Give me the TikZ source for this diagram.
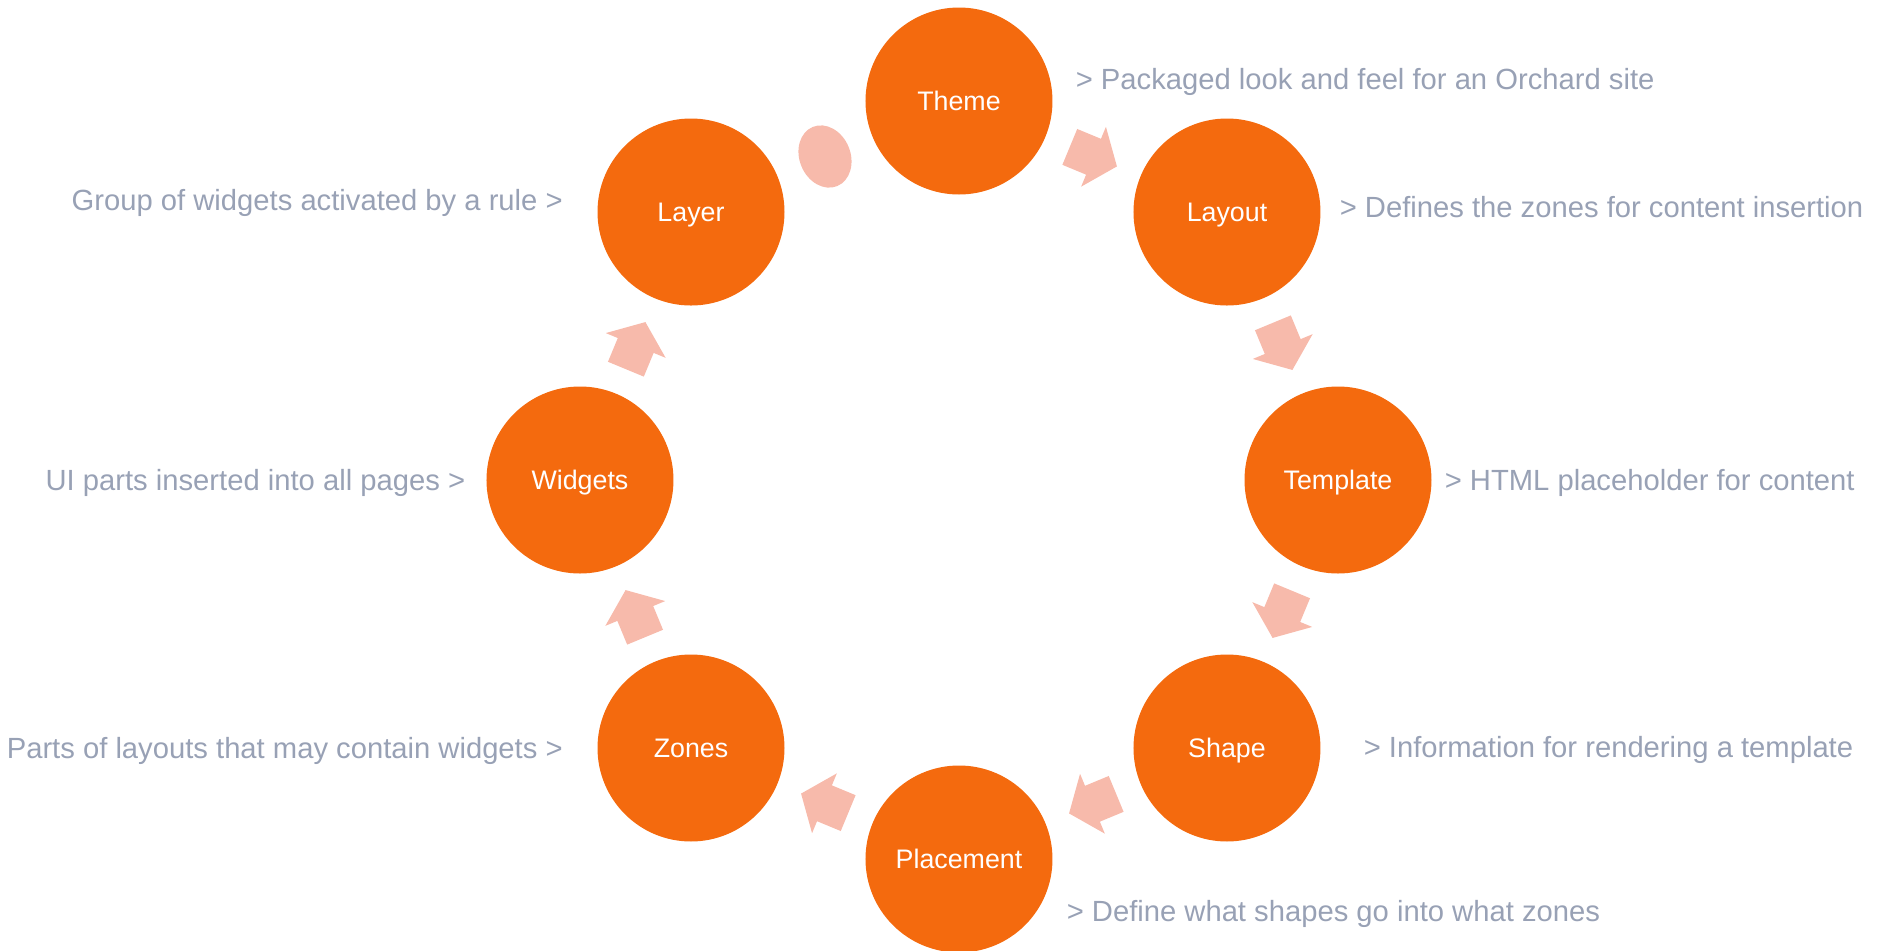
\documentclass[tikz,border=0pt]{standalone}
\usepackage{fontspec}
\setmainfont{Liberation Sans}
\usetikzlibrary{shapes.arrows, shapes.geometric, positioning, calc}

\definecolor{stageorange}{HTML}{F46A0E}
\definecolor{stepsalmon}{HTML}{F7BAAB}
\definecolor{notegray}{HTML}{98A1B5}

\tikzset{
    stage/.style={circle, fill=stageorange, text=white, minimum size=93.5pt, inner sep=0pt, text height=9.6pt, text depth=0pt, font=\fontsize{13.4}{16}\selectfont},
    note/.style={text=notegray, inner sep=0pt, text height=10.45pt, text depth=0pt, font=\fontsize{14.6}{17}\selectfont},
    flowarrow/.style={single arrow, fill=stepsalmon, inner xsep=0pt, inner ysep=9.5pt, minimum width=32pt, single arrow head extend=6.5pt, single arrow tip angle=104, minimum height=25.5pt, anchor=tail, rotate=#1},
}

\begin{document}
\begin{tikzpicture}[x=0.5pt, y=0.5pt]
    \useasboundingbox (-959,-470) rectangle (921,480);

    % Stages round the ring, clockwise from the top
    \foreach \name/\ang/\txt in {theme/90/Theme, layout/45/Layout, template/0/Template, shape/-45/Shape, placement/-90/Placement, zones/-135/Zones, widgets/180/Widgets, layer/135/Layer}
        \node[stage] (\name) at (\ang:379) {\txt};

    % Arrows half way between neighbouring stages
    \foreach \from/\to/\dir in {theme/layout/-22.5, layout/template/-67.5, template/shape/-112.5, shape/placement/-157.5, placement/zones/157.5, zones/widgets/112.5, widgets/layer/67.5}
        \node[flowarrow=\dir] (\from-\to) at ($(\from)!0.5!(\to)+({\dir+180}:25.5)$) {};

    % Last step back to the top is an ellipse
    \node[ellipse, fill=stepsalmon, inner sep=0pt, minimum width=25.5pt, minimum height=32pt, rotate=22.5] (layer-theme) at ($(layer)!0.5!(theme)$) {};

    % Notes on the right side
    \node[note, anchor=west] (themenote) at ([shift={(22.5,22)}]theme.east) {> Packaged look and feel for an Orchard site};
    \node[note, anchor=west] (layoutnote) at ([shift={(18.5,5)}]layout.east) {> Defines the zones for content insertion};
    \node[note, anchor=west] (templatenote) at ([shift={(12.5,0)}]template.east) {> HTML placeholder for content};
    \node[note, anchor=west] (shapenote) at ([shift={(42.5,1)}]shape.east) {> Information for rendering a template};
    \node[note, anchor=west] (placementnote) at ([shift={(13.5,-52)}]placement.east) {> Define what shapes go into what zones};

    % Notes on the left side
    \node[note, anchor=east] (zonesnote) at ([shift={(-34,0)}]zones.west) {Parts of layouts that may contain widgets >};
    \node[note, anchor=east] (widgetsnote) at ([shift={(-20.5,0)}]widgets.west) {UI parts inserted into all pages >};
    \node[note, anchor=east] (layernote) at ([shift={(-34,12)}]layer.west) {Group of widgets activated by a rule >};
\end{tikzpicture}
\end{document}
